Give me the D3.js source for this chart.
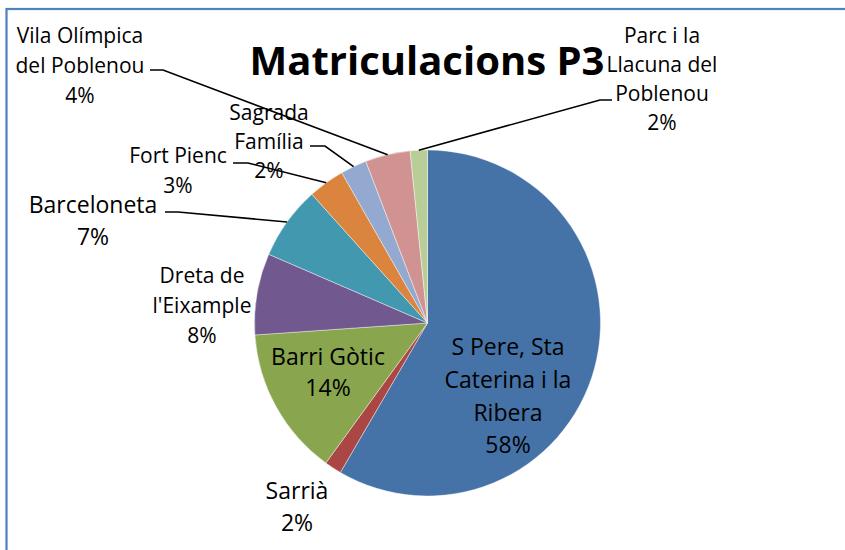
<!DOCTYPE html>
<html>
<head>
<meta charset="utf-8">
<script src="https://cdn.jsdelivr.net/npm/d3@7"></script>
<style>
  body { margin: 0; background: #fff; }
  text { font-family: "Open Sans", "Noto Sans", sans-serif; fill: #000; }
</style>
</head>
<body>
<div id="chart"></div>
<script>
// Chart data (clockwise from 12 o'clock), shares in %
const districts = ["S Pere, Sta Caterina i la Ribera", "Sarrià", "Barri Gòtic", "Dreta de l'Eixample",
  "Barceloneta", "Fort Pienc", "Sagrada Família", "Vila Olímpica del Poblenou", "Parc i la Llacuna del Poblenou"];
const shares = [58.4, 1.6, 13.9, 7.6, 6.85, 3.4, 2.45, 4.2, 1.6];
const labelLines = [
  ["S Pere, Sta", "Caterina i la", "Ribera"],
  ["Sarrià"],
  ["Barri Gòtic"],
  ["Dreta de", "l'Eixample"],
  ["Barceloneta"],
  ["Fort Pienc"],
  ["Sagrada", "Família"],
  ["Vila Olímpica", "del Poblenou"],
  ["Parc i la", "Llacuna del", "Poblenou"]
];
const sliceColours = ["#4572A7", "#AA4643", "#89A54E", "#71588F", "#4198AF", "#DB843D", "#93A9CF", "#D19392", "#B9CD96"];

// SVG area
const svgWidth = 845;
const svgHeight = 550;
const centre = { x: 427.5, y: 323 };
const radius = 173;

// label placement: centre x, first line middle y, line step, font size, leader start (or null)
const labelLayout = [
  { x: 508, y: 347, step: 32.7, size: 23, leader: null },
  { x: 297, y: 491, step: 32, size: 23, leader: null },
  { x: 328, y: 357, step: 31, size: 23, leader: null },
  { x: 202, y: 275, step: 30, size: 21, leader: null },
  { x: 93, y: 205, step: 32, size: 23, leader: [[165, 212], [178, 212]] },
  { x: 178, y: 155, step: 30, size: 21, leader: [[233, 163], [248, 163]] },
  { x: 269, y: 112, step: 29, size: 21, leader: [[310, 146], [325, 146]] },
  { x: 80, y: 35, step: 30, size: 21, leader: [[150, 70], [163, 70]] },
  { x: 662, y: 35, step: 29.3, size: 21, leader: [[612, 100], [600, 100]] }
];

const svg = d3.select("#chart")
  .append("svg")
  .attr("width", svgWidth)
  .attr("height", svgHeight);

// chart frame (right/bottom edges fall outside the picture)
svg.append("rect")
  .attr("x", 6.5)
  .attr("y", 9)
  .attr("width", 1000)
  .attr("height", 1000)
  .attr("fill", "none")
  .attr("stroke", "#4F81BD")
  .attr("stroke-width", 2.2);

// title
svg.append("text")
  .attr("x", 427)
  .attr("y", 75)
  .attr("text-anchor", "middle")
  .style("font-size", "40px")
  .style("font-weight", "bold")
  .text("Matriculacions P3");

const total = d3.sum(shares);

const pie = d3.pie()
  .sort(null)
  .value(d => d)
  .startAngle(0)
  .endAngle(2 * Math.PI);

const arcs = pie(shares);

const arc = d3.arc()
  .innerRadius(0)
  .outerRadius(radius);

const rim = d3.arc()
  .innerRadius(radius)
  .outerRadius(radius);

const pieGroup = svg.append("g")
  .attr("transform", `translate(${centre.x}, ${centre.y})`);

pieGroup.selectAll("path.slice")
  .data(arcs)
  .enter()
  .append("path")
  .attr("class", "slice")
  .attr("d", arc)
  .attr("fill", (d, i) => sliceColours[i])
  .attr("stroke", "#ffffff")
  .attr("stroke-width", 0.6)
  .attr("stroke-opacity", 0.7);

// leader lines
const line = d3.line();
arcs.forEach(function (d, i) {
  const lay = labelLayout[i];
  if (!lay.leader) return;
  const p = rim.centroid(d);
  const pts = lay.leader.concat([[p[0] + centre.x, p[1] + centre.y]]);
  svg.append("path")
    .attr("d", line(pts))
    .attr("fill", "none")
    .attr("stroke", "#000")
    .attr("stroke-width", 1.6);
});

// data labels
arcs.forEach(function (d, i) {
  const lay = labelLayout[i];
  const pct = Math.round(shares[i] / total * 100);
  const lines = labelLines[i].concat([`${pct}%`]);
  const t = svg.append("text")
    .attr("text-anchor", "middle")
    .style("font-size", `${lay.size}px`);
  lines.forEach(function (s, k) {
    t.append("tspan")
      .attr("x", lay.x)
      .attr("y", lay.y + k * lay.step + lay.size * 0.36)
      .text(s);
  });
});
</script>
</body>
</html>
